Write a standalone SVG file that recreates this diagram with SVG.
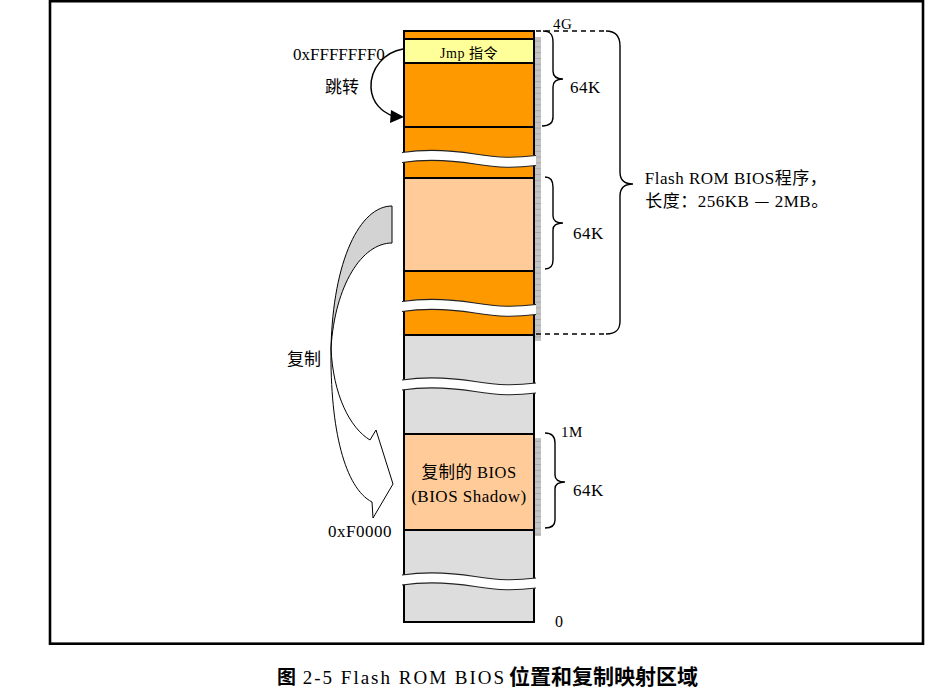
<svg xmlns="http://www.w3.org/2000/svg" width="931" height="691" viewBox="0 0 931 691">
<style>
.t{font-family:"Liberation Serif","Noto Sans CJK SC",serif;font-size:17px;fill:#000;letter-spacing:0.5px}
.cjk{font-family:"Noto Sans CJK SC",sans-serif;fill:#000}
.ln{stroke:#000;stroke-width:2;fill:none}
.brace{stroke:#000;stroke-width:1.4;fill:none}
.dash{stroke:#000;stroke-width:1.6;stroke-dasharray:5,4;fill:none}
</style>
<defs>
<pattern id="ruler" x="0" y="0" width="6" height="5.8" patternUnits="userSpaceOnUse">
<rect width="6" height="5.8" fill="#c4c4c4"/>
<line x1="0" y1="0.5" x2="6" y2="0.5" stroke="#a9a9a9" stroke-width="1"/>
</pattern>
<g id="wave">
<path d="M402,0 C425,-3.5 450,-2.5 475,1.5 C500,5.5 515,5.5 536,3 L536,13 C515,15.5 500,15.5 475,11.5 C450,7.5 425,6.5 402,10 Z" fill="#fff"/>
<path d="M402,0 C425,-3.5 450,-2.5 475,1.5 C500,5.5 515,5.5 536,3" stroke="#222" stroke-width="1.1" fill="none"/>
<path d="M402,10 C425,6.5 450,7.5 475,11.5 C500,15.5 515,15.5 536,13" stroke="#222" stroke-width="1.1" fill="none"/>
</g>
</defs>
<rect x="0" y="0" width="931" height="691" fill="#fff"/>
<rect id="frame" x="50" y="1.2" width="873" height="642.5" fill="none" stroke="#000" stroke-width="2.6"/>

<g id="ruler-strips">
<rect x="535" y="37" width="6" height="304" fill="url(#ruler)"/>
<rect x="535" y="438" width="6" height="98" fill="url(#ruler)"/>
</g>

<g id="memory-column">
<rect x="404" y="31" width="130" height="8" fill="#FF9900"/>
<rect x="404" y="39" width="130" height="24" fill="#FFFF99"/>
<rect x="404" y="63" width="130" height="115" fill="#FF9900"/>
<rect x="404" y="178" width="130" height="93" fill="#FFCC99"/>
<rect x="404" y="271" width="130" height="64" fill="#FF9900"/>
<rect x="404" y="335" width="130" height="99" fill="#DDDDDD"/>
<rect x="404" y="434" width="130" height="96" fill="#FFCC99"/>
<rect x="404" y="530" width="130" height="92" fill="#DDDDDD"/>
<rect x="404" y="31" width="130" height="591" class="ln"/>
<path class="ln" d="M404,39H534M404,63H534M404,127H534M404,178H534M404,271H534M404,335H534M404,434H534M404,530H534"/>
<use href="#wave" transform="translate(0,152.5)"/>
<use href="#wave" transform="translate(0,301.5)"/>
<use href="#wave" transform="translate(0,380)"/>
<use href="#wave" transform="translate(0,575)"/>
</g>

<g id="labels-in-column">
<text class="t" x="469" y="58" text-anchor="middle" style="font-size:14px">Jmp 指令</text>
<text class="t" x="469" y="478" text-anchor="middle" style="font-size:16.5px">复制的 BIOS</text>
<text class="t" x="469" y="502" text-anchor="middle">(BIOS Shadow)</text>
</g>

<g id="address-labels">
<text class="t" x="553" y="29" style="font-size:15px">4G</text>
<text class="t" x="561" y="437" style="font-size:15px">1M</text>
<text class="t" x="555" y="627" style="font-size:16px">0</text>
<text class="t" x="293" y="60" style="letter-spacing:0">0xFFFFFFF0</text>
<text class="t" x="328" y="537">0xF0000</text>
<text class="t" x="570" y="93">64K</text>
<text class="t" x="573" y="239">64K</text>
<text class="t" x="573" y="496">64K</text>
<text class="t" x="736" y="184" text-anchor="middle">Flash ROM BIOS程序，</text>
<text class="t" x="737" y="207" text-anchor="middle">长度：256KB <tspan class="cjk">—</tspan> 2MB。</text>
</g>

<g id="braces">
<path class="dash" d="M536,31H606M536,334H606"/>
<path class="brace" d="M606,31 C616,31 620,36 620,46 L620,172 C620,180 625,184 633,184 C625,184 620,188 620,196 L620,321 C620,330 616,334 606,334"/>
<path class="brace" d="M543,31 C550,31 553,34 553,42 L553,71 C553,77 557,79 563,79 C557,79 553,81 553,87 L553,117 C553,123 549,126 542,126"/>
<path class="brace" d="M545,177 C550,177 553,180 553,187 L553,216 C553,221 557,223 563,223 C557,223 553,225 553,230 L553,260 C553,266 550,269 545,269"/>
<path class="brace" d="M545,433 C551,433 555,436 555,443 L555,475 C555,480 559,482 565,482 C559,482 555,484 555,489 L555,520 C555,526 551,528 545,528"/>
</g>

<g id="connectors">
<g id="jump-arrow">
<path d="M403,49 C385,52 370,68 371,88 C372,103 382,112 393,116" stroke="#000" stroke-width="1.5" fill="none"/>
<path d="M404,117 L391,110 L390,123 Z" fill="#000"/>
</g>
<g id="copy-arrow" stroke="#000" stroke-width="1">
<path d="M392,206 C360,206 333,260 331,348 C335,285 362,243 392,243 Z" fill="#D3D3D3"/>
<path d="M331,348 C333,395 350,428 370,440 L376,430 L393,484 L373,518 L372,502 C345,488 330,430 331,348 Z" fill="#fff"/>
</g>
</g>

<g id="side-labels">
<text class="cjk" x="325" y="93" style="font-size:17px">跳转</text>
<text class="cjk" x="287" y="365" style="font-size:17px">复制</text>
</g>

<text id="caption" x="277" y="684" class="t" style="font-size:19px;letter-spacing:2px"><tspan class="cjk" style="font-size:19px;font-weight:bold;letter-spacing:0">图</tspan> 2-5 Flash ROM BIOS<tspan class="cjk" dx="3" style="font-size:21px;font-weight:bold;letter-spacing:0">位置和复制映射区域</tspan></text>
</svg>
